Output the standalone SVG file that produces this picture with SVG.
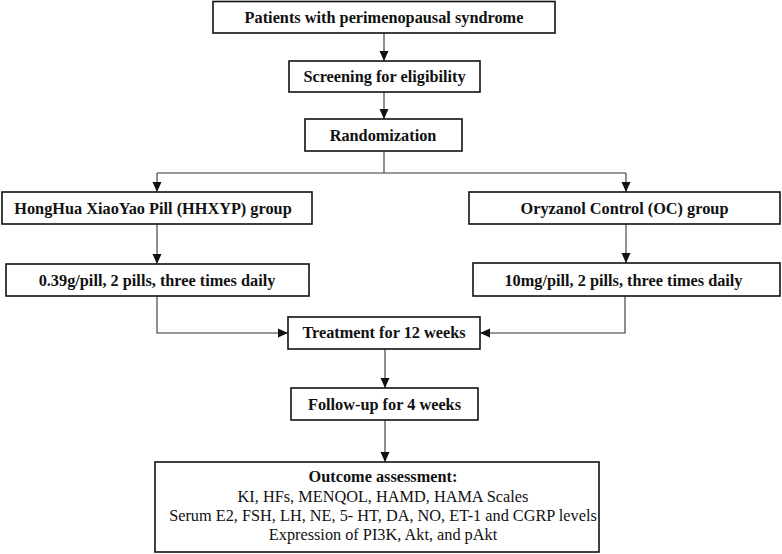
<svg xmlns="http://www.w3.org/2000/svg" width="782" height="554" viewBox="0 0 782 554">
<style>
.box{fill:#fff;stroke:#111;stroke-width:1.6}
.t{font-family:"Liberation Serif","Times New Roman",serif;font-size:16.3px;font-weight:bold;fill:#111;text-anchor:middle}
.r{font-family:"Liberation Serif","Times New Roman",serif;font-size:16.3px;fill:#111;text-anchor:middle}
.c{fill:none;stroke:#333;stroke-width:1.1}
</style>
<defs>
<marker id="ah" markerUnits="userSpaceOnUse" markerWidth="10" markerHeight="10" viewBox="0 0 10 10" refX="10" refY="5" orient="auto">
<path d="M0,0.5 L10,5 L0,9.5 Z" fill="#111"/>
</marker>
</defs>
<rect width="782" height="554" fill="#fff"/>
<g id="connectors">
<path class="c" d="M384,33 V61" marker-end="url(#ah)"/>
<path class="c" d="M384,92 V119" marker-end="url(#ah)"/>
<path class="c" d="M384,151 V173 M157,173 H626"/>
<path class="c" d="M157,173 V192" marker-end="url(#ah)"/>
<path class="c" d="M626,173 V192" marker-end="url(#ah)"/>
<path class="c" d="M157,224 V264" marker-end="url(#ah)"/>
<path class="c" d="M626,224 V263" marker-end="url(#ah)"/>
<path class="c" d="M157,296 V333 H288" marker-end="url(#ah)"/>
<path class="c" d="M625,296 V333 H480" marker-end="url(#ah)"/>
<path class="c" d="M385,349 V388" marker-end="url(#ah)"/>
<path class="c" d="M385,420 V462" marker-end="url(#ah)"/>
</g>
<g id="patients">
<rect class="box" x="213" y="1.5" width="342" height="31.5"/>
<text class="t" x="384" y="23">Patients with perimenopausal syndrome</text>
</g>
<g id="screening">
<rect class="box" x="289" y="61" width="191" height="31"/>
<text class="t" x="384.5" y="82">Screening for eligibility</text>
</g>
<g id="randomization">
<rect class="box" x="305" y="119" width="157" height="32"/>
<text class="t" x="383" y="141">Randomization</text>
</g>
<g id="hhxyp">
<rect class="box" x="2" y="192" width="310" height="32"/>
<text class="t" x="153" y="214">HongHua XiaoYao Pill (HHXYP) group</text>
</g>
<g id="hhxyp-dose">
<rect class="box" x="6" y="264" width="303" height="32"/>
<text class="t" x="157" y="286">0.39g/pill, 2 pills, three times daily</text>
</g>
<g id="oc">
<rect class="box" x="469" y="192" width="311" height="32"/>
<text class="t" x="624.5" y="214">Oryzanol Control (OC) group</text>
</g>
<g id="oc-dose">
<rect class="box" x="473" y="263" width="307" height="33"/>
<text class="t" x="623.5" y="286">10mg/pill, 2 pills, three times daily</text>
</g>
<g id="treatment">
<rect class="box" x="288" y="317" width="192" height="32"/>
<text class="t" x="384" y="338">Treatment for 12 weeks</text>
</g>
<g id="followup">
<rect class="box" x="291" y="388" width="187" height="32"/>
<text class="t" x="384.5" y="410">Follow-up for 4 weeks</text>
</g>
<g id="outcome">
<rect class="box" x="155" y="462" width="444" height="90"/>
<text class="t" x="383" y="482">Outcome assessment:</text>
<text class="r" x="383" y="502">KI, HFs, MENQOL, HAMD, HAMA Scales</text>
<text class="r" x="383" y="521">Serum E2, FSH, LH, NE, 5- HT, DA, NO, ET-1 and CGRP levels</text>
<text class="r" x="383" y="540">Expression of PI3K, Akt, and pAkt</text>
</g>
</svg>
